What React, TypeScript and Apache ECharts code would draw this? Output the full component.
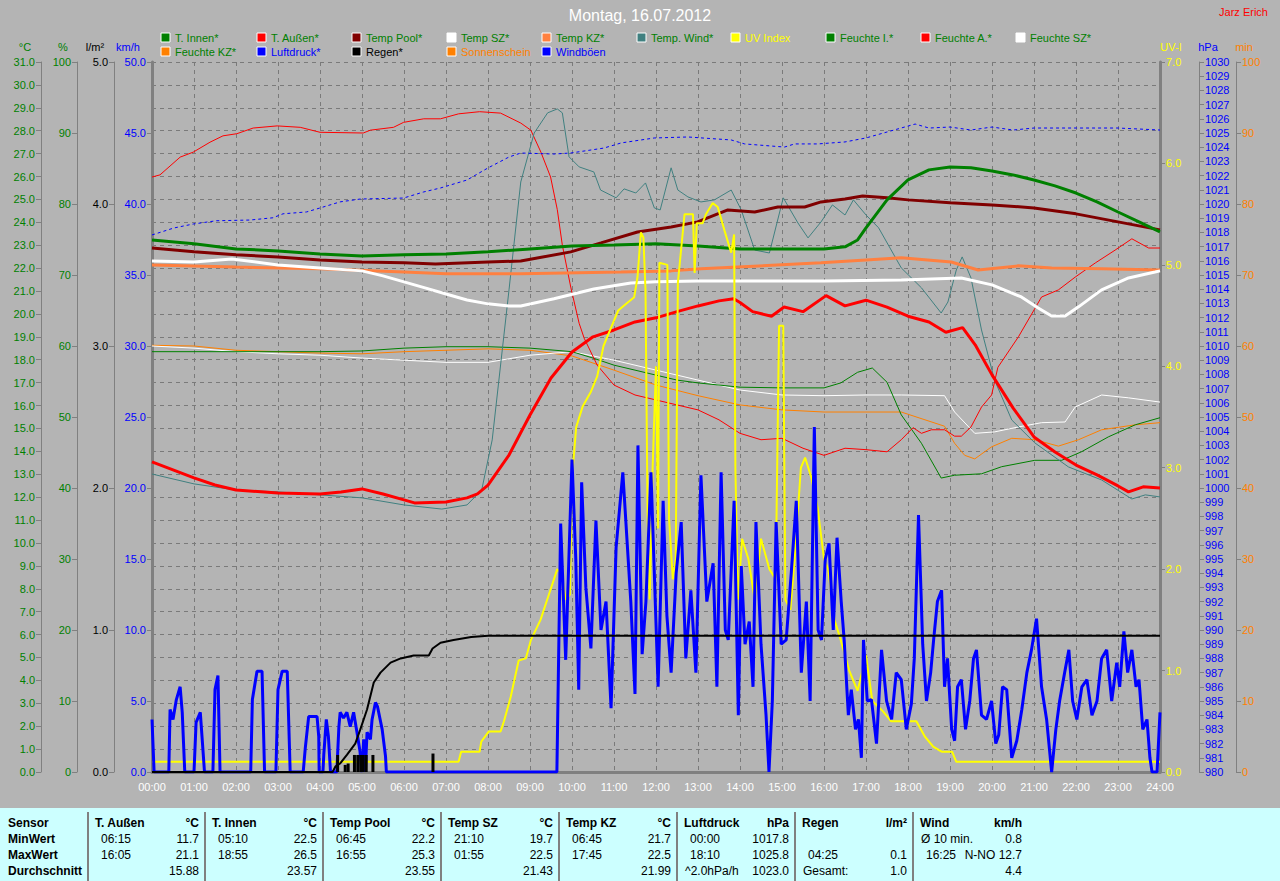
import React, { useEffect, useRef } from "react";
import * as echarts from "echarts";

const FONT = "'Liberation Sans', Arial, sans-serif";

// ---- data (x in hours of the day) ----
const tAussen = [
  [0, 13.54], [0.5, 13.19], [1, 12.84], [1.5, 12.53], [2, 12.31], [3, 12.18], [4, 12.14], [4.5, 12.23], [5, 12.36],
  [5.5, 12.14], [6, 11.88], [6.25, 11.75], [7, 11.79], [7.5, 11.97], [7.75, 12.14], [8, 12.53], [8.5, 13.84], [9, 15.59],
  [9.5, 17.2], [10, 18.34], [10.5, 19.0], [11, 19.3], [11.5, 19.65], [12, 19.83], [12.5, 20.1], [13, 20.35], [13.5, 20.57],
  [13.85, 20.66], [14, 20.5], [14.3, 20.1], [14.75, 19.9], [15.05, 20.3], [15.5, 20.1], [16.05, 20.8], [16.5, 20.35],
  [17, 20.6], [17.5, 20.3], [18, 19.9], [18.5, 19.65], [18.9, 19.2], [19.3, 19.4], [19.6, 18.65], [20, 17.34], [20.5, 15.9],
  [21, 14.63], [21.5, 13.97], [22, 13.4], [22.5, 12.97], [23, 12.49], [23.25, 12.23], [23.6, 12.45], [24, 12.4]
];
const tInnen = [
  [0, 23.23], [1, 23.06], [2, 22.84], [3, 22.75], [4, 22.62], [5, 22.53], [6, 22.58], [7, 22.62], [8, 22.71], [9, 22.84],
  [10, 22.97], [11, 23.01], [12, 23.06], [13, 22.97], [14, 22.84], [15, 22.84], [16, 22.84], [16.5, 22.93], [16.8, 23.23],
  [17, 23.76], [17.5, 24.98], [18, 25.85], [18.5, 26.29], [19, 26.42], [19.5, 26.38], [20, 26.24], [20.5, 26.07], [21, 25.85],
  [21.5, 25.59], [22, 25.28], [22.5, 24.89], [23, 24.45], [23.5, 24.02], [24, 23.58]
];
const tPool = [
  [0, 22.88], [1, 22.71], [2, 22.58], [3, 22.49], [4, 22.36], [5, 22.27], [6, 22.23], [6.75, 22.18], [8, 22.27], [8.78, 22.31],
  [9.97, 22.71], [10.69, 23.1], [11.56, 23.58], [12.36, 23.8], [12.99, 24.02], [13.71, 24.54], [14.35, 24.45], [14.9, 24.67],
  [15.54, 24.67], [15.93, 24.89], [16.5, 25.02], [16.92, 25.15], [17.5, 25.07], [18, 24.98], [19, 24.85], [20, 24.76],
  [21, 24.63], [22, 24.37], [23, 24.02], [24, 23.67]
];
const tSZ = [
  [0, 22.31], [1, 22.27], [1.9, 22.4], [3, 22.14], [4, 22.01], [5, 21.88], [5.5, 21.66], [6, 21.4], [6.5, 21.14], [7, 20.87],
  [7.5, 20.61], [8, 20.44], [8.5, 20.35], [8.78, 20.35], [9.57, 20.66], [10.52, 21.09], [11.4, 21.35], [12, 21.4], [13, 21.44],
  [16, 21.44], [17.84, 21.48], [19.27, 21.57], [20, 21.27], [20.7, 20.74], [21.1, 20.26], [21.42, 19.91], [21.74, 19.91],
  [22.06, 20.31], [22.61, 21.05], [23.25, 21.57], [23.88, 21.83], [24, 21.88]
];
const tKZ = [
  [0, 22.14], [2, 22.05], [4, 21.97], [6, 21.83], [7, 21.75], [8.78, 21.75], [11.17, 21.83], [12.36, 21.88], [13.07, 21.97],
  [15.93, 22.23], [17, 22.36], [17.84, 22.45], [19.03, 22.27], [19.67, 21.92], [20.63, 22.1], [21.42, 22.01], [22.61, 21.97],
  [24, 21.92]
];
const tWind = [
  [0, 13.01], [1, 12.58], [2, 12.31], [3, 12.23], [4, 12.1], [5, 11.97], [6, 11.66], [6.9, 11.48], [7.5, 11.66], [7.85, 12.31],
  [8.1, 14.5], [8.5, 21.05], [8.78, 25.76], [9.1, 27.9], [9.42, 28.78], [9.65, 28.95], [9.77, 28.78], [9.93, 26.86],
  [10.17, 26.42], [10.52, 26.2], [10.68, 25.41], [11.05, 25.07], [11.24, 25.46], [11.52, 25.28], [11.75, 25.72],
  [11.96, 24.63], [12.1, 24.54], [12.36, 26.38], [12.52, 25.41], [12.76, 25.11], [13.07, 24.89], [13.39, 24.98],
  [13.79, 25.41], [14.03, 24.54], [14.35, 22.79], [14.7, 22.66], [15.03, 25.07], [15.38, 23.97], [15.62, 23.32],
  [15.93, 24.02], [16.2, 24.76], [16.5, 24.32], [16.7, 24.98], [17, 24.32], [17.3, 23.76], [17.84, 22.01], [18.32, 21.14],
  [18.79, 20.04], [18.95, 20.52], [19.15, 21.92], [19.29, 22.49], [19.5, 21.57], [19.75, 19.3], [20.06, 17.12],
  [20.47, 15.37], [21.02, 14.37], [21.82, 13.32], [22.61, 12.75], [23.33, 11.92], [23.65, 12.1], [24, 12.01]
];
const feuchteA = [
  [0, 83.8], [0.19, 84.1], [0.67, 86.6], [0.98, 87.3], [1.38, 88.7], [1.69, 89.6], [2.02, 89.9], [2.41, 90.7], [2.98, 91.0],
  [3.53, 90.8], [4, 90.1], [5.03, 90.0], [5.2, 90.4], [5.75, 90.8], [5.99, 91.5], [6.47, 92.0], [6.87, 92.0], [7.3, 92.7],
  [7.8, 93.0], [8.3, 92.8], [8.78, 91.4], [9.02, 90.4], [9.26, 87.3], [9.49, 83.8], [9.65, 79.2], [9.77, 74.2], [9.97, 68.3],
  [10.17, 63.2], [10.29, 61.1], [10.6, 57.3], [11, 54.5], [11.5, 53.1], [12, 52.4], [12.5, 51.7], [13, 51.0], [13.5, 49.6],
  [14, 47.7], [14.5, 46.8], [15, 47.0], [15.5, 45.6], [16, 44.6], [16.5, 45.6], [17, 45.4], [17.5, 45.1], [17.84, 46.8],
  [18.12, 48.5], [18.32, 47.7], [18.56, 48.2], [18.87, 48.2], [19.11, 47.3], [19.27, 47.3], [19.5, 48.6], [19.75, 51.4],
  [19.99, 53.1], [20.14, 57.0], [20.63, 61.3], [21.18, 66.9], [21.58, 67.9], [21.98, 69.7], [22.46, 71.7], [22.93, 73.5],
  [23.33, 75.1], [23.73, 73.8], [24, 73.8]
];
const feuchteI = [
  [0, 59.2], [4, 59.2], [5, 59.3], [6, 59.7], [7, 59.9], [8, 59.9], [9, 59.7], [10, 59.2], [10.5, 58.3], [11, 57.3],
  [11.5, 56.6], [12, 55.9], [12.5, 55.2], [13, 54.8], [13.5, 54.5], [14, 54.2], [15, 54.1], [16, 54.1], [16.4, 54.8],
  [16.8, 56.3], [17.15, 56.9], [17.5, 54.9], [17.84, 50.3], [18.32, 46.3], [18.79, 41.4], [19.11, 41.8], [19.75, 42.0],
  [20.23, 43.0], [21.02, 43.9], [21.66, 43.9], [22.13, 45.1], [22.77, 47.2], [23.41, 48.9], [24, 49.9]
];
const feuchteSZ = [
  [0, 60.0], [1, 59.7], [2, 59.2], [3, 58.9], [4, 58.7], [5, 58.3], [6, 58.0], [7, 57.7], [8, 57.7], [9, 58.7], [10, 59.2],
  [11, 58.0], [12, 56.6], [13, 55.2], [14, 53.8], [15, 53.1], [16, 53.0], [17, 53.1], [17.84, 53.1], [18.87, 53.0],
  [19.11, 50.7], [19.59, 47.7], [20.06, 47.9], [20.63, 48.6], [21.18, 49.2], [21.74, 49.3], [21.98, 51.4], [22.61, 53.1],
  [23.25, 52.7], [24, 52.1]
];
const feuchteKZ = [
  [0, 60.1], [1, 60.0], [2, 59.4], [3, 59.2], [4, 59.0], [5, 58.9], [6, 59.2], [7, 59.4], [8, 59.6], [9, 59.4], [10, 58.6],
  [11, 56.6], [12, 54.5], [13, 53.0], [14, 51.7], [15, 51.0], [16, 50.7], [17, 50.7], [17.84, 50.7], [18.87, 48.7],
  [19.11, 46.3], [19.35, 44.6], [19.59, 44.1], [19.99, 45.8], [20.47, 47.0], [21.02, 46.8], [21.58, 45.9], [22.06, 46.8],
  [22.61, 48.2], [23.41, 48.9], [24, 49.2]
];
const luftdruck = [
  [0, 1017.82], [0.52, 1018.31], [0.98, 1018.59], [1.53, 1018.82], [2.33, 1018.87], [2.88, 1019.03], [3.12, 1019.31],
  [3.68, 1019.44], [4, 1019.72], [4.48, 1020.15], [4.96, 1020.35], [5.99, 1020.42], [6.47, 1020.85], [6.87, 1021.13],
  [7.5, 1021.69], [8, 1022.54], [8.5, 1023.31], [8.78, 1023.59], [9.57, 1023.52], [9.97, 1023.59], [10.76, 1023.94],
  [11.17, 1024.3], [11.96, 1024.65], [12.76, 1024.72], [13.79, 1024.51], [14.11, 1024.23], [15.06, 1024.01], [15.3, 1024.23],
  [15.85, 1024.23], [16.5, 1024.37], [17, 1024.65], [17.5, 1025.07], [18.17, 1025.63], [18.5, 1025.35], [19, 1025.42],
  [19.5, 1025.21], [20, 1025.42], [20.5, 1025.21], [21, 1025.35], [22, 1025.35], [23, 1025.35], [24, 1025.21]
];
const regenSumme = [
  [0, 0], [4.3, 0], [4.37, 0.04], [4.48, 0.06], [4.64, 0.12], [4.84, 0.2], [4.96, 0.3], [5.12, 0.44], [5.28, 0.63],
  [5.44, 0.7], [5.68, 0.77], [5.92, 0.8], [6.23, 0.82], [6.59, 0.82], [6.68, 0.87], [6.87, 0.91], [7.18, 0.93], [7.6, 0.95],
  [8, 0.96], [24, 0.96]
];
const regenIntervall = [
  [4.42, 0.12], [4.6, 0.05], [4.67, 0.06], [4.82, 0.12], [4.9, 0.12], [4.97, 0.12], [5.03, 0.12], [5.1, 0.12], [5.26, 0.12],
  [6.69, 0.13]
];
const uvIndex = [
  [0, 0.1], [7.3, 0.1], [7.36, 0.2], [7.8, 0.2], [7.84, 0.3], [8.02, 0.4], [8.3, 0.4], [8.38, 0.5], [8.54, 0.74], [8.73, 1.1],
  [8.9, 1.12], [9.02, 1.3], [9.25, 1.5], [9.45, 1.75], [9.65, 2.0], [9.75, 1.95], [9.85, 1.7], [9.95, 1.75], [10.0, 2.9],
  [10.1, 3.4], [10.25, 3.6], [10.45, 3.75], [10.6, 3.9], [10.75, 4.2], [10.95, 4.4], [11.1, 4.55], [11.24, 4.6], [11.48, 4.68],
  [11.56, 4.88], [11.64, 5.32], [11.7, 5.27], [11.75, 4.75], [11.8, 2.5], [11.85, 1.7], [11.92, 3.0], [12.0, 4.0], [12.05, 2.4],
  [12.08, 5.02], [12.27, 5.0], [12.31, 2.5], [12.4, 1.9], [12.47, 2.1], [12.52, 4.82], [12.68, 5.5], [12.88, 5.5], [12.92, 4.92],
  [12.97, 5.41], [13.11, 5.41], [13.19, 5.5], [13.35, 5.61], [13.47, 5.57], [13.63, 5.34], [13.79, 5.12], [13.86, 5.3],
  [13.89, 3.0], [13.95, 1.7], [14.05, 2.3], [14.2, 2.1], [14.35, 1.7], [14.5, 2.3], [14.7, 2.0], [14.85, 1.9], [14.93, 4.4],
  [15.03, 4.4], [15.08, 1.7], [15.2, 1.6], [15.3, 2.1], [15.45, 3.0], [15.55, 3.1], [15.7, 2.9], [15.85, 2.6], [16.0, 2.1],
  [16.1, 2.0], [16.25, 1.5], [16.4, 1.3], [16.6, 1.0], [16.8, 0.8], [17.0, 1.15], [17.15, 0.7], [17.4, 0.6], [17.6, 0.5],
  [17.9, 0.5], [18.2, 0.5], [18.4, 0.35], [18.6, 0.25], [18.8, 0.2], [19.05, 0.2], [19.15, 0.1], [24, 0.1]
];
const windboeen = [
  [0, 3.7], [0.05, 0], [0.4, 0], [0.43, 4.4], [0.5, 3.7], [0.58, 5.1], [0.67, 6.0], [0.72, 4.2], [0.78, 0], [1.0, 0],
  [1.05, 3.5], [1.15, 4.2], [1.25, 0], [1.45, 0], [1.5, 5.8], [1.57, 6.8], [1.62, 0], [2.35, 0], [2.39, 5.1], [2.5, 7.1],
  [2.62, 7.1], [2.68, 0], [2.95, 0], [3.0, 5.8], [3.1, 7.1], [3.22, 7.1], [3.29, 0], [3.6, 0], [3.65, 1.7], [3.73, 3.9],
  [3.93, 3.9], [3.97, 2.5], [3.98, 0], [4.07, 0], [4.09, 1.2], [4.15, 3.7], [4.2, 2.5], [4.25, 0], [4.4, 0], [4.45, 3.2],
  [4.48, 4.2], [4.56, 3.8], [4.64, 4.2], [4.72, 3.2], [4.8, 4.2], [4.88, 2.8], [4.95, 1.5], [5.0, 0], [5.04, 2.3], [5.08, 0],
  [5.12, 2.8], [5.2, 2.3], [5.24, 3.7], [5.32, 4.9], [5.37, 4.6], [5.48, 3.0], [5.56, 1.1], [5.58, 0], [9.64, 0],
  [9.73, 17.5], [9.85, 7.9], [10.0, 22.0], [10.09, 15.0], [10.16, 5.8], [10.23, 20.4], [10.33, 13.0], [10.45, 8.7],
  [10.57, 17.7], [10.69, 10.0], [10.81, 12.0], [10.93, 4.5], [11.05, 15.8], [11.21, 21.1], [11.4, 12.0], [11.5, 5.5],
  [11.57, 23.0], [11.67, 8.3], [11.76, 12.0], [11.88, 21.1], [12.05, 6.0], [12.17, 19.1], [12.26, 11.0], [12.36, 7.0],
  [12.48, 14.0], [12.6, 17.6], [12.71, 8.0], [12.83, 12.8], [12.95, 7.0], [13.07, 20.9], [13.21, 12.0], [13.36, 14.7],
  [13.45, 6.0], [13.55, 21.1], [13.65, 10.0], [13.72, 9.3], [13.86, 19.1], [13.96, 4.0], [14.03, 14.5], [14.12, 9.0],
  [14.22, 10.6], [14.31, 6.0], [14.38, 17.6], [14.5, 9.0], [14.62, 4.0], [14.69, 0], [14.77, 5.0], [14.86, 17.6],
  [14.98, 9.0], [15.1, 9.3], [15.22, 14.0], [15.34, 19.1], [15.46, 7.0], [15.58, 12.0], [15.67, 5.0], [15.77, 24.3],
  [15.86, 10.0], [15.94, 9.3], [16.03, 15.0], [16.12, 16.1], [16.22, 10.0], [16.31, 16.5], [16.41, 12.0], [16.48, 9.3],
  [16.58, 4.0], [16.65, 5.8], [16.75, 3.0], [16.82, 3.7], [16.89, 1.0], [16.94, 9.3], [17.03, 5.0], [17.13, 5.1],
  [17.25, 2.0], [17.37, 8.6], [17.49, 5.0], [17.61, 3.7], [17.72, 7.0], [17.84, 6.5], [17.96, 3.0], [18.08, 4.8],
  [18.15, 8.0], [18.25, 18.1], [18.35, 9.0], [18.44, 5.0], [18.54, 7.0], [18.61, 9.3], [18.7, 12.0], [18.8, 12.8],
  [18.87, 6.0], [18.94, 8.0], [19.04, 3.0], [19.11, 2.2], [19.18, 6.0], [19.27, 6.5], [19.37, 3.0], [19.47, 5.0],
  [19.56, 8.0], [19.63, 8.6], [19.75, 4.0], [19.87, 3.7], [19.99, 5.0], [20.09, 2.0], [20.16, 2.6], [20.25, 6.0],
  [20.35, 5.8], [20.47, 1.0], [20.59, 2.2], [20.71, 4.4], [20.83, 7.0], [20.94, 8.6], [21.06, 10.8], [21.18, 6.0],
  [21.3, 3.7], [21.42, 0], [21.52, 3.0], [21.61, 5.0], [21.73, 7.0], [21.83, 8.6], [21.92, 5.0], [22.02, 3.7],
  [22.14, 6.0], [22.26, 6.5], [22.38, 4.0], [22.5, 5.0], [22.61, 8.0], [22.73, 8.6], [22.85, 5.0], [22.97, 7.7],
  [23.04, 6.0], [23.14, 9.9], [23.23, 7.0], [23.33, 8.6], [23.43, 6.0], [23.5, 6.5], [23.59, 3.0], [23.69, 3.7],
  [23.76, 1.0], [23.81, 0], [23.93, 0], [24.0, 4.2]
];

// legend entries: label, box colour, text colour
const legendRow1 = [
  ["T. Innen*", "#008000", "#008000"], ["T. Außen*", "#FF0000", "#008000"], ["Temp Pool*", "#800000", "#008000"],
  ["Temp SZ*", "#FFFFFF", "#008000"], ["Temp KZ*", "#FF8040", "#008000"], ["Temp. Wind*", "#408080", "#008000"],
  ["UV Index", "#FFFF00", "#FFFF00"], ["Feuchte I.*", "#008000", "#008000"], ["Feuchte A.*", "#FF0000", "#008000"],
  ["Feuchte SZ*", "#FFFFFF", "#008000"]
];
const legendRow2 = [
  ["Feuchte KZ*", "#FF8000", "#008000"], ["Luftdruck*", "#0000FF", "#0000FF"], ["Regen*", "#000000", "#000000"],
  ["Sonnenschein", "#FF8000", "#FF8000"], ["Windböen", "#0000FF", "#0000FF"]
];
const legendCols = [161, 257, 352, 447, 542, 637, 731, 826, 921, 1016];

// statistics table
const tableRowLabels = ["Sensor", "MinWert", "MaxWert", "Durchschnitt"];
const tableSections = [
  { title: "T. Außen", unit: "°C", rows: [["06:15", "11.7"], ["16:05", "21.1"], ["", "15.88"]] },
  { title: "T. Innen", unit: "°C", rows: [["05:10", "22.5"], ["18:55", "26.5"], ["", "23.57"]] },
  { title: "Temp Pool", unit: "°C", rows: [["06:45", "22.2"], ["16:55", "25.3"], ["", "23.55"]] },
  { title: "Temp SZ", unit: "°C", rows: [["21:10", "19.7"], ["01:55", "22.5"], ["", "21.43"]] },
  { title: "Temp KZ", unit: "°C", rows: [["06:45", "21.7"], ["17:45", "22.5"], ["", "21.99"]] },
  { title: "Luftdruck", unit: "hPa", rows: [["00:00", "1017.8"], ["18:10", "1025.8"], ["^2.0hPa/h", "1023.0"]] },
  { title: "Regen", unit: "l/m²", rows: [["", ""], ["04:25", "0.1"], ["Gesamt:", "1.0"]] },
  { title: "Wind", unit: "km/h", rows: [["Ø 10 min.", "0.8"], ["16:25", "N-NO 12.7"], ["", "4.4"]] }
];
const tableSeps = [88, 205, 323, 441, 559, 677, 795, 913];
const tableRowY = [823, 839, 855, 871];

const pad2 = (n: number) => (n < 10 ? "0" : "") + n;

function txt(text: string, x: number, y: number, fill: string, size = 11, align = "left", weight = "normal") {
  return {
    type: "text",
    x,
    y,
    silent: true,
    style: {
      text,
      fill,
      font: `${weight} ${size}px ${FONT}`,
      textAlign: align,
      align,
      textVerticalAlign: "middle",
      verticalAlign: "middle"
    }
  };
}

function buildGraphic() {
  const g: any[] = [];
  g.push(txt("Montag, 16.07.2012", 640, 15, "#FFFFFF", 16, "center"));
  g.push(txt("Jarz Erich", 1268, 12, "#FF0000", 11, "right"));
  // axis unit titles
  g.push(txt("°C", 25, 47, "#008000", 11, "center"));
  g.push(txt("%", 63, 47, "#008000", 11, "center"));
  g.push(txt("l/m²", 95, 47, "#000000", 11, "center"));
  g.push(txt("km/h", 128, 47, "#0000FF", 11, "center"));
  g.push(txt("UV-I", 1171, 47, "#FFFF00", 11, "center"));
  g.push(txt("hPa", 1208, 47, "#0000FF", 11, "center"));
  g.push(txt("min", 1244, 47, "#FF8000", 11, "center"));
  // legend
  const addRow = (row: string[][], y: number) => {
    row.forEach((it, i) => {
      const x = legendCols[i];
      g.push({ type: "rect", silent: true, shape: { x: x, y: y - 5, width: 9, height: 9 }, style: { fill: it[1], stroke: "#FFFFFF", lineWidth: 1 } });
      g.push(txt(it[0], x + 14, y, it[2], 11, "left"));
    });
  };
  addRow(legendRow1, 38);
  addRow(legendRow2, 52);
  // table
  g.push({ type: "rect", silent: true, shape: { x: 0, y: 808, width: 1280, height: 73 }, style: { fill: "#CCFFFF" } });
  tableSeps.forEach((x) => {
    g.push({ type: "line", silent: true, shape: { x1: x, y1: 812, x2: x, y2: 881 }, style: { stroke: "#808080", lineWidth: 2 } });
  });
  tableRowLabels.forEach((l, i) => g.push(txt(l, 8, tableRowY[i], "#000000", 12, "left", "bold")));
  tableSections.forEach((s, i) => {
    const left = tableSeps[i];
    const right = i + 1 < tableSeps.length ? tableSeps[i + 1] - 6 : 1022;
    g.push(txt(s.title, left + 7, tableRowY[0], "#000000", 12, "left", "bold"));
    g.push(txt(s.unit, right, tableRowY[0], "#000000", 12, "right", "bold"));
    s.rows.forEach((r, j) => {
      const isTime = /^\d\d:\d\d$/.test(r[0]);
      if (r[0]) g.push(txt(r[0], left + (isTime ? 13 : 8), tableRowY[j + 1], "#000000", 12, "left"));
      if (r[1]) g.push(txt(r[1], right, tableRowY[j + 1], "#000000", 12, "right"));
    });
  });
  return g;
}

function yAx(opts: any) {
  const { min, max, interval, color, position, offset, digits, border, split } = opts;
  return {
    type: "value",
    position,
    offset,
    min,
    max,
    interval,
    splitLine: split
      ? { show: true, lineStyle: { color: "#7A7A7A", type: [4, 4], width: 1 } }
      : { show: false },
    axisLine: { show: true, onZero: false, lineStyle: { color: "#808080", width: border ? 3 : 1 } },
    axisTick: { show: true, inside: false, length: 5, lineStyle: { color: "#808080" } },
    axisLabel: {
      color,
      fontSize: 11,
      fontFamily: FONT,
      margin: 6,
      formatter: (v: number) => v.toFixed(digits)
    }
  };
}

function line(name: string, data: number[][], yAxisIndex: number, color: string, width: number, extra: any = {}) {
  return {
    name,
    type: "line",
    data,
    yAxisIndex,
    showSymbol: false,
    symbol: "none",
    silent: true,
    lineStyle: { color, width, ...(extra.lineStyle || {}) },
    itemStyle: { color },
    z: extra.z || 2
  };
}

export default function App() {
  const ref = useRef<HTMLDivElement>(null);
  useEffect(() => {
    const chart = echarts.init(ref.current!, null, { renderer: "svg" });
    const option: any = {
      animation: false,
      backgroundColor: "#B4B4B4",
      textStyle: { fontFamily: FONT },
      grid: { left: 152, right: 120, top: 62, bottom: 109, containLabel: false },
      xAxis: [
        {
          type: "value",
          min: 0,
          max: 24,
          interval: 1,
          axisLine: { show: false },
          axisTick: { show: false },
          splitLine: { show: true, lineStyle: { color: "#7A7A7A", type: [4, 4], width: 1 } },
          axisLabel: {
            color: "#FFFFFF",
            fontSize: 11,
            fontFamily: FONT,
            margin: 9,
            formatter: (v: number) => pad2(v) + ":00"
          }
        },
        {
          type: "value",
          position: "top",
          min: 0,
          max: 24,
          axisLine: { show: true, lineStyle: { color: "#808080", width: 3 } },
          axisTick: { show: false },
          axisLabel: { show: false },
          splitLine: { show: false }
        }
      ],
      yAxis: [
        yAx({ min: 0, max: 31, interval: 1, color: "#008000", position: "left", offset: 111, digits: 1, split: true }),
        yAx({ min: 0, max: 100, interval: 10, color: "#008000", position: "left", offset: 75, digits: 0 }),
        yAx({ min: 0, max: 5, interval: 1, color: "#000000", position: "left", offset: 38, digits: 1 }),
        yAx({ min: 0, max: 50, interval: 5, color: "#0000FF", position: "left", offset: 0, digits: 1, border: true }),
        yAx({ min: 0, max: 7, interval: 1, color: "#FFFF00", position: "right", offset: 0, digits: 1, border: true }),
        yAx({ min: 980, max: 1030, interval: 1, color: "#0000FF", position: "right", offset: 39, digits: 0 }),
        yAx({ min: 0, max: 100, interval: 10, color: "#FF8000", position: "right", offset: 76, digits: 0 })
      ],
      series: [
        line("Feuchte KZ*", feuchteKZ, 1, "#FF8000", 1),
        line("Feuchte SZ*", feuchteSZ, 1, "#FFFFFF", 1),
        line("Feuchte I.*", feuchteI, 1, "#008000", 1),
        line("Feuchte A.*", feuchteA, 1, "#FF0000", 1),
        line("Temp. Wind*", tWind, 0, "#408080", 1),
        line("Luftdruck*", luftdruck, 5, "#0000FF", 1, { lineStyle: { type: [3, 3] } }),
        line("Temp KZ*", tKZ, 0, "#FF8040", 3),
        line("Temp SZ*", tSZ, 0, "#FFFFFF", 3),
        line("Temp Pool*", tPool, 0, "#800000", 3),
        line("T. Innen*", tInnen, 0, "#008000", 3),
        line("T. Außen*", tAussen, 0, "#FF0000", 3),
        line("UV Index", uvIndex, 4, "#FFFF00", 2, { z: 3 }),
        line("Windböen", windboeen, 3, "#0000FF", 3, { z: 4 }),
        line("Regen*", regenSumme, 2, "#000000", 2, { z: 5 }),
        {
          name: "Regen Intervall",
          type: "bar",
          data: regenIntervall,
          yAxisIndex: 2,
          barWidth: 3,
          silent: true,
          itemStyle: { color: "#000000" },
          z: 5
        }
      ],
      graphic: buildGraphic()
    };
    chart.setOption(option);
    return () => chart.dispose();
  }, []);
  return <div ref={ref} style={{ position: "absolute", left: 0, top: 0, width: 1280, height: 881 }} />;
}
